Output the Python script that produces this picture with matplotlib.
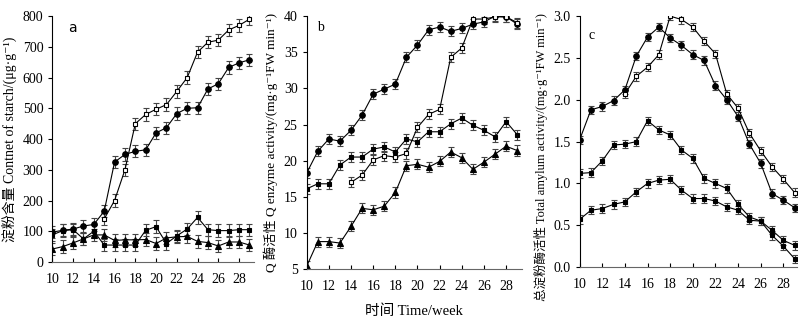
import matplotlib.pyplot as plt
import numpy as np

plt.rcParams['font.family'] = ['Liberation Serif', 'Noto Sans CJK SC', 'DejaVu Serif']

weeks = np.arange(10, 30)
weeks_open = np.arange(14, 30)

# panel a: starch content
a_open = [140, 200, 300, 450, 480, 497, 512, 555, 600, 683, 715, 722, 755, 770, 790]
a_circle = [97, 103, 107, 117, 122, 165, 325, 350, 360, 365, 420, 437, 483, 500, 502,
            563, 580, 633, 648, 658]
a_square = [88, 102, 105, 75, 100, 55, 55, 55, 55, 103, 115, 60, 85, 107, 145,
            105, 102, 102, 105, 105]
a_tri = [42, 50, 62, 75, 88, 88, 70, 72, 72, 73, 60, 78, 82, 83, 67, 63, 52, 65, 65, 55]

# panel b: Q enzyme
b_circle = [18.3, 21.3, 23.0, 22.7, 24.2, 26.3, 29.2, 29.9, 30.6, 34.3, 36.0, 38.1,
            38.5, 37.9, 38.3, 38.9, 39.2, 40.0, 39.9, 38.9]
b_open = [17.0, 18.0, 20.1, 20.7, 20.5, 21.0, 24.6, 26.4, 27.1, 34.3, 35.6, 39.6,
          39.6, 39.9, 39.9, 39.1]
b_square = [16.1, 16.8, 16.8, 19.4, 20.5, 20.5, 21.6, 21.9, 21.2, 23.0, 22.6, 24.0,
            24.0, 25.1, 25.9, 24.9, 24.2, 23.3, 25.4, 23.6]
b_tri = [5.4, 8.8, 8.8, 8.6, 10.9, 13.4, 13.2, 13.7, 15.6, 19.3, 19.5, 19.1, 19.9,
         21.2, 20.4, 18.8, 19.8, 20.9, 22.0, 21.4]

# panel c: total amylum
c_circle = [1.52, 1.88, 1.92, 1.99, 2.12, 2.52, 2.75, 2.87, 2.74, 2.65, 2.54, 2.47,
            2.17, 2.00, 1.80, 1.47, 1.24, 0.88, 0.80, 0.71]
c_open = [2.07, 2.28, 2.39, 2.54, 3.00, 2.96, 2.87, 2.70, 2.55, 2.07, 1.90, 1.60,
          1.39, 1.20, 1.05, 0.89]
c_tri = [1.12, 1.13, 1.27, 1.46, 1.47, 1.50, 1.75, 1.64, 1.58, 1.40, 1.30, 1.06,
         1.00, 0.94, 0.75, 0.60, 0.55, 0.44, 0.32, 0.26]
c_square = [0.57, 0.68, 0.70, 0.75, 0.78, 0.90, 1.00, 1.04, 1.05, 0.92, 0.82, 0.82,
            0.79, 0.72, 0.68, 0.56, 0.55, 0.38, 0.25, 0.10]

err_a, err_b, err_c = 20, 0.7, 0.05

fig = plt.figure(figsize=(8.05, 3.23), dpi=100)
axa = fig.add_axes([0.065, 0.189, 0.250, 0.761])
axb = fig.add_axes([0.381, 0.167, 0.267, 0.783])
axc = fig.add_axes([0.720, 0.173, 0.270, 0.777])


def series(ax, x, y, e, marker, filled=True, ms=4):
    ax.errorbar(x, y, yerr=e, color='black', lw=0.8, marker=marker, ms=ms,
                mfc='black' if filled else 'white', mec='black', mew=0.8,
                ecolor='#444444', elinewidth=0.8, capsize=2.5, capthick=0.8)


for ax, data, e in [
        (axa, [(a_circle, 'o', True), (a_open, 's', False), (a_square, 's', True), (a_tri, '^', True)], err_a),
        (axb, [(b_circle, 'o', True), (b_open, 's', False), (b_square, 's', True), (b_tri, '^', True)], err_b),
        (axc, [(c_circle, 'o', True), (c_open, 's', False), (c_tri, 's', True), (c_square, 's', True)], err_c)]:
    for y, m, f in data:
        x = weeks if len(y) == 20 else (weeks_open if len(y) == 16 else np.arange(15, 30))
        series(ax, x, y, e, m, f, ms=4 if m != 's' else 3.5)
    ax.spines['top'].set_visible(False)
    ax.spines['right'].set_visible(False)
    ax.spines['bottom'].set_color('#666666')
    ax.set_xticks(np.arange(10, 30, 2))
    ax.tick_params(axis='x', direction='in', length=3, labelsize=10, pad=8)
    ax.tick_params(axis='y', direction='out', length=3, labelsize=10)

axa.set_xlim(10, 29.4)
axa.set_ylim(0, 800)
axa.set_yticks(np.arange(0, 801, 100))
axa.set_ylabel('淀粉含量 Contnet of starch/(μg·g⁻¹)', fontsize=10, labelpad=4)
axa.text(0.08, 0.98, 'a', transform=axa.transAxes, fontsize=10, va='top',
         family='DejaVu Sans')

axb.set_xlim(10, 29.4)
axb.set_ylim(5, 40)
axb.set_yticks(np.arange(5, 41, 5))
axb.set_ylabel('Q 酶活性 Q enzyme activity/(mg·g⁻¹FW min⁻¹)', fontsize=9.5, labelpad=4)
axb.set_xlabel('时间 Time/week', fontsize=10.5, labelpad=8)
axb.text(0.05, 0.98, 'b', transform=axb.transAxes, fontsize=10, va='top')

axc.set_xlim(10, 29.2)
axc.set_ylim(0, 3.0)
axc.set_yticks(np.arange(0, 3.01, 0.5))
axc.set_yticklabels(['%.1f' % v for v in np.arange(0, 3.01, 0.5)])
axc.set_ylabel('总淀粉酶活性 Total amylum activity/(mg·g⁻¹FW min⁻¹)', fontsize=9,
               labelpad=4, y=0.44)
axc.text(0.04, 0.95, 'c', transform=axc.transAxes, fontsize=10, va='top')

fig.savefig('out.png', dpi=100)
